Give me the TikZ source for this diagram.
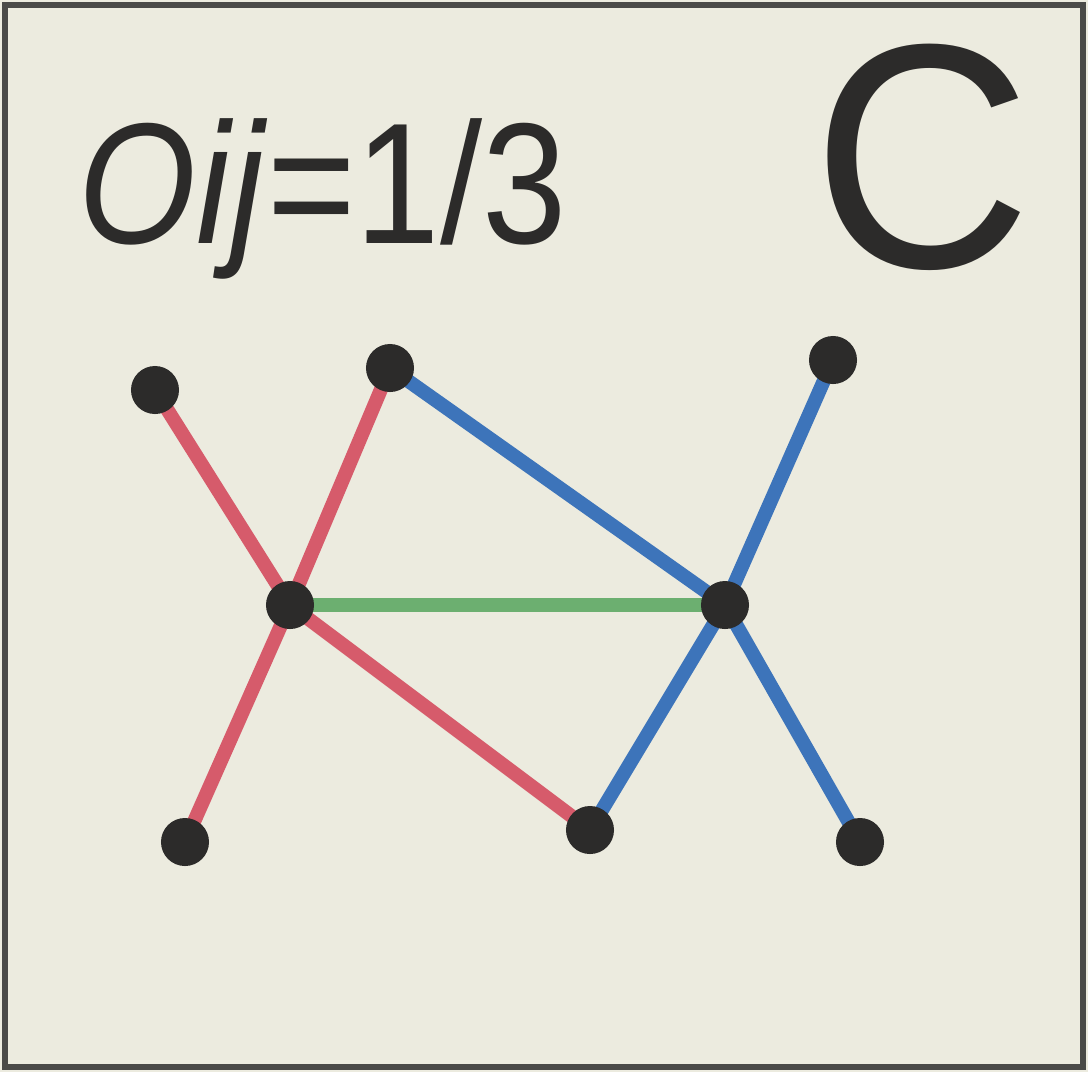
\documentclass[tikz,border=0pt]{standalone}
\usepackage{fontspec}
\setmainfont{Liberation Sans}
\definecolor{bgc}{HTML}{ECEBDF}
\definecolor{framec}{HTML}{4A4A48}
\definecolor{redc}{HTML}{D65B6B}
\definecolor{bluec}{HTML}{3D74BA}
\definecolor{greenc}{HTML}{6CAF70}
\definecolor{dotc}{HTML}{2C2B2A}
\tikzset{
  dot/.style={circle, fill=dotc, inner sep=0pt, minimum size=0.48cm},
  redline/.style={redc, line width=0.14cm},
  blueline/.style={bluec, line width=0.14cm},
  greenline/.style={greenc, line width=0.14cm},
  lbl/.style={text=dotc, inner sep=0pt}
}
\begin{document}
\begin{tikzpicture}[x=0.01cm,y=-0.01cm]
\useasboundingbox (0,0) rectangle (1088,1072);
\fill[bgc] (0,0) rectangle (1088,1072);
\draw[framec, line width=0.06cm] (5,5) rectangle (1083,1067);
\node[lbl, anchor=base west, xscale=0.88, font=\fontsize{49}{52}\selectfont] (t) at (78,243) {\textit{Oij}=1/3};
\node[lbl, anchor=base east, xscale=0.95, font=\fontsize{91}{91}\selectfont] (c) at (1033,267) {C};
\coordinate (A) at (155,390);
\coordinate (B) at (390,368);
\coordinate (K) at (833,360);
\coordinate (D) at (290,605);
\coordinate (E) at (725,605);
\coordinate (F) at (185,842);
\coordinate (G) at (590,830);
\coordinate (H) at (860,842);
\draw[redline] (A) -- (D);
\draw[redline] (B) -- (D);
\draw[redline] (D) -- (F);
\draw[redline] (D) -- (G);
\draw[blueline] (B) -- (E);
\draw[blueline] (K) -- (E);
\draw[blueline] (E) -- (G);
\draw[blueline] (E) -- (H);
\draw[greenline] (D) -- (E);
\foreach \n in {A,B,K,D,E,F,G,H} \node[dot] (n\n) at (\n) {};
\end{tikzpicture}
\end{document}
